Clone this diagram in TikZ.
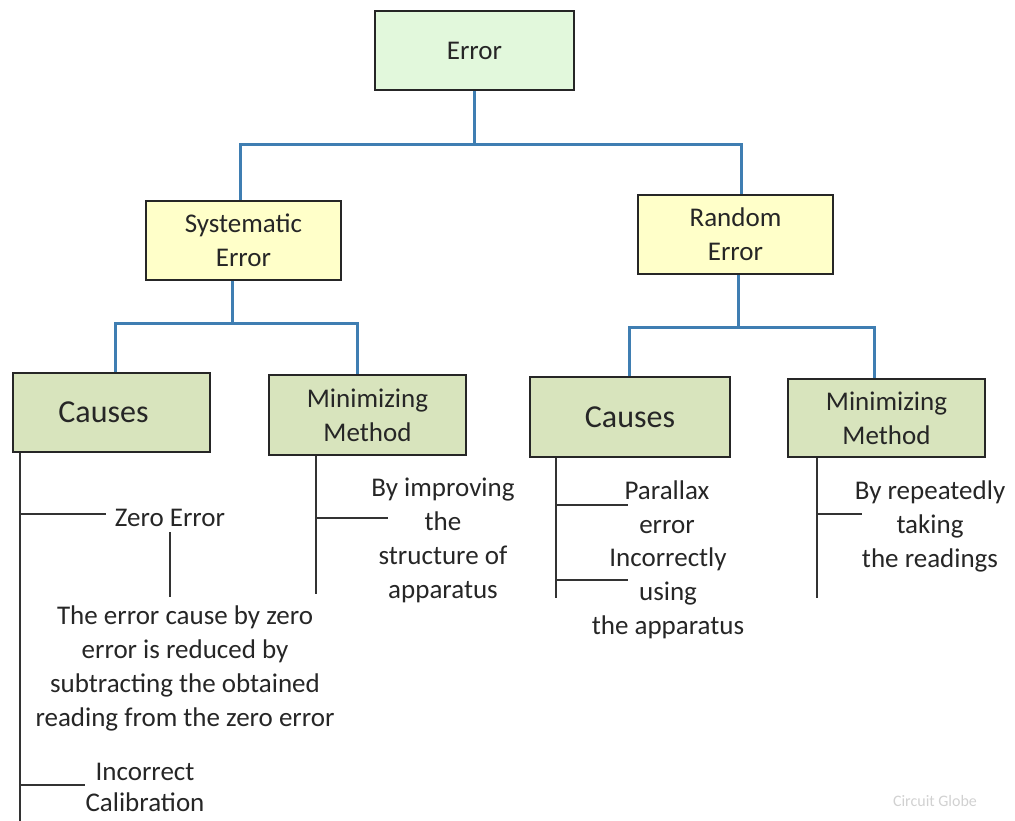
\documentclass[tikz,border=0pt]{standalone}
\usepackage{fontspec}
\setmainfont{Carlito}
\definecolor{topgreen}{HTML}{E2F8DC}
\definecolor{yell}{HTML}{FFFFC9}
\definecolor{olive}{HTML}{D8E4BD}
\definecolor{blueline}{HTML}{3F7EB2}
\definecolor{txt}{HTML}{262626}
\begin{document}
\begin{tikzpicture}[x=1pt,y=-1pt,
  box/.style={draw=black!85,line width=1.8pt,inner sep=0pt,text=txt,font=\fontsize{27}{34}\selectfont,align=center},
  lbl/.style={inner sep=0pt,text=txt,font=\fontsize{27}{34}\selectfont,align=center},
  bl/.style={draw=blueline,line width=3pt},
  leader/.style={draw=black!80,line width=1.6pt}]
\useasboundingbox (0,0) rectangle (1015,821);
% boxes
\node[box,fill=topgreen,minimum width=199pt,minimum height=79pt] (err) at (474.5,50.5) {Error};
\node[box,fill=yell,minimum width=195pt,minimum height=79pt] (sys) at (243.5,240.5) {Systematic\\Error};
\node[box,fill=yell,minimum width=195pt,minimum height=79pt] (ran) at (735.5,234.5) {Random\\Error};
\node[box,fill=olive,minimum width=197pt,minimum height=79pt,text width=197pt,font=\fontsize{32}{38}\selectfont] (sc) at (111.5,412.5) {\hspace*{-16pt}Causes};
\node[box,fill=olive,minimum width=197pt,minimum height=80pt] (sm) at (367.5,415) {Minimizing\\Method};
\node[box,fill=olive,minimum width=200pt,minimum height=80pt,font=\fontsize{32}{38}\selectfont] (rc) at (630,417) {Causes};
\node[box,fill=olive,minimum width=197pt,minimum height=78pt] (rm) at (886.5,418) {Minimizing\\Method};
% blue tree connectors
\coordinate (j0) at (474,145);
\coordinate (j1) at (232,323);
\coordinate (j2) at (738,327);
\draw[bl] (err.south -| j0) -- (j0);
\draw[bl] (sys.north -| 240,0) |- (j0) -| (ran.north -| 741,0);
\draw[bl] (sys.south -| j1) -- (j1);
\draw[bl] (sc.north -| 115,0) |- (j1) -| (sm.north -| 357,0);
\draw[bl] (ran.south -| j2) -- (j2);
\draw[bl] (rc.north -| 629,0) |- (j2) -| (rm.north -| 874,0);
% text labels
\node[lbl] (ze) at (170,518) {Zero Error};
\node[lbl] (zt) at (185,668) {The error cause by zero\\error is reduced by\\subtracting the obtained\\reading from the zero error};
\node[lbl,font=\fontsize{27}{31}\selectfont] (ic) at (145,787) {Incorrect\\Calibration};
\node[lbl] (bi) at (443,540) {By improving\\the\\structure of\\apparatus};
\node[lbl] (pe) at (667,507) {Parallax\\error};
\node[lbl] (iu) at (668,593) {Incorrectly\\using\\the apparatus};
\node[lbl] (br) at (930,526) {By repeatedly\\taking\\the readings};
\node[inner sep=0pt,text=black!18,font=\fontsize{16}{18}\selectfont] (wm) at (935,801) {Circuit Globe};
% leaders
\coordinate (sL) at (20,821);
\draw[leader] (sc.south -| sL) -- (sL);
\draw[leader] (20,514) -- (106,514);
\draw[leader] (20,785) -- (85,785);
\draw[leader] (170,532) -- (170,597);
\draw[leader] (sm.south -| 316,0) -- (316,594);
\draw[leader] (316,518) -- (388,518);
\draw[leader] (rc.south -| 556,0) -- (556,598);
\draw[leader] (556,505) -- (628,505);
\draw[leader] (556,580) -- (628,580);
\draw[leader] (rm.south -| 817,0) -- (817,598);
\draw[leader] (817,514) -- (862,514);
\end{tikzpicture}
\end{document}
